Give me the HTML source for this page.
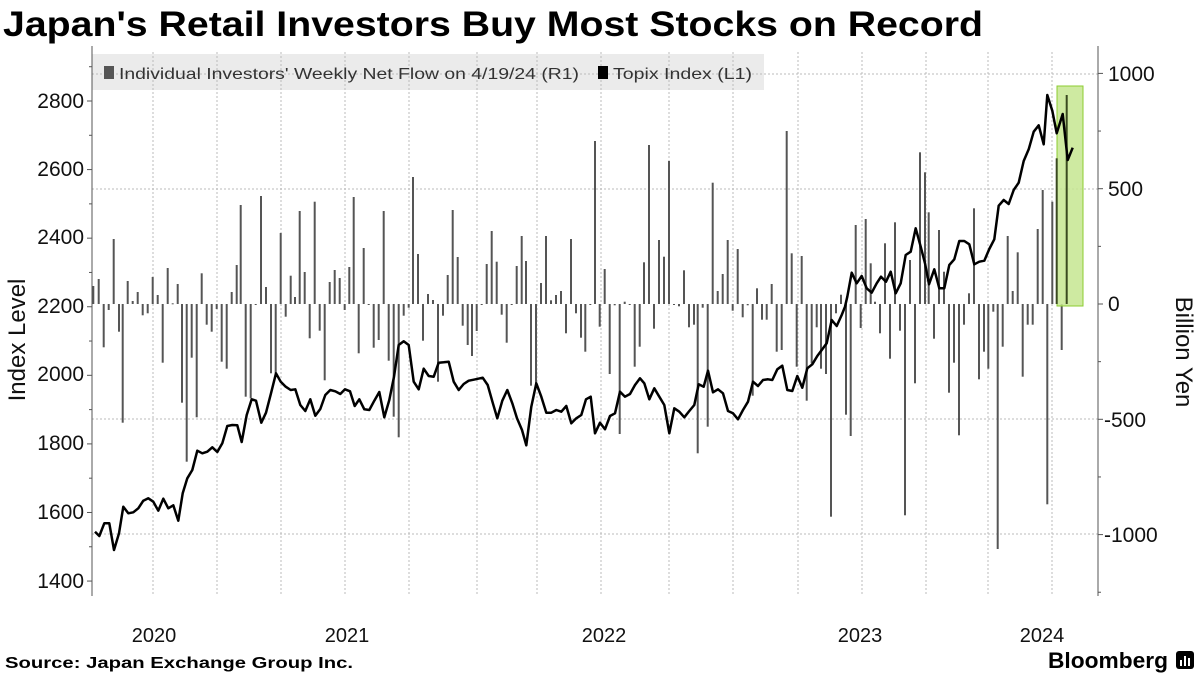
<!DOCTYPE html>
<html><head><meta charset="utf-8"><style>
html,body{margin:0;padding:0;background:#fff;}
svg{display:block;font-family:"Liberation Sans",sans-serif;}
</style></head><body>
<svg id="c" width="1200" height="675" viewBox="0 0 1200 675" xmlns="http://www.w3.org/2000/svg">
<rect width="1200" height="675" fill="#fff"/>
<text x="3" y="36" font-size="35" font-weight="bold" textLength="980" lengthAdjust="spacingAndGlyphs" fill="#000">Japan's Retail Investors Buy Most Stocks on Record</text>
<rect x="92" y="54" width="672" height="36" fill="#ebebeb"/>
<g id="grid" stroke="#bbb" stroke-width="1" stroke-dasharray="2,2" fill="none"></g>
<g id="bars" fill="#555"></g>
<rect x="1057" y="86" width="26" height="220" fill="#c5e690" stroke="#8ccc30" stroke-width="1" fill-opacity="0.85"/>
<g id="bars2" fill="#3a4a20"></g>
<polyline id="line" fill="none" stroke="#000" stroke-width="2.5" stroke-linejoin="round"/>
<rect x="104" y="66" width="10" height="13" fill="#555"/>
<text x="119" y="79" font-size="16" textLength="460" lengthAdjust="spacingAndGlyphs" fill="#333">Individual Investors' Weekly Net Flow on 4/19/24 (R1)</text>
<rect x="598" y="66" width="10" height="13" fill="#000"/>
<text x="613" y="79" font-size="16" textLength="139" lengthAdjust="spacingAndGlyphs" fill="#333">Topix Index (L1)</text>
<line x1="92" y1="46" x2="92" y2="596" stroke="#555" stroke-width="1"/>
<line x1="1098" y1="46" x2="1098" y2="596" stroke="#555" stroke-width="1"/>
<g id="ticks" stroke="#555" stroke-width="1"></g>
<g font-size="21" fill="#111" text-anchor="end">
<text x="84" y="108">2800</text><text x="84" y="176">2600</text><text x="84" y="244">2400</text>
<text x="84" y="313">2200</text><text x="84" y="381">2000</text><text x="84" y="450">1800</text>
<text x="84" y="519">1600</text><text x="84" y="588">1400</text>
</g>
<g font-size="21" fill="#111">
<text x="1108" y="81">1000</text><text x="1108" y="196">500</text><text x="1108" y="311">0</text>
<text x="1104" y="427">-500</text><text x="1104" y="542">-1000</text>
</g>
<text transform="translate(25,340) rotate(-90)" font-size="24" text-anchor="middle" fill="#111">Index Level</text>
<text transform="translate(1176,352) rotate(90)" font-size="24" text-anchor="middle" fill="#111">Billion Yen</text>
<g font-size="20" fill="#111" text-anchor="middle">
<text x="154" y="642">2020</text><text x="347" y="642">2021</text><text x="604" y="642">2022</text>
<text x="860" y="642">2023</text><text x="1042" y="642">2024</text>
</g>
<text x="5" y="668" font-size="16" font-weight="bold" textLength="348" lengthAdjust="spacingAndGlyphs" fill="#000">Source: Japan Exchange Group Inc.</text>
<text x="1048" y="668" font-size="22" font-weight="bold" textLength="120" lengthAdjust="spacingAndGlyphs" fill="#000">Bloomberg</text>
<rect x="1176" y="651" width="18" height="18" rx="3" fill="#000"/>
<rect x="1180" y="660" width="2" height="6" fill="#fff"/><rect x="1184" y="656" width="2" height="10" fill="#fff"/><rect x="1188" y="658" width="2" height="8" fill="#fff"/>
</svg>
<script>
var NS="http://www.w3.org/2000/svg";
function el(t,a,p){var e=document.createElementNS(NS,t);for(var k in a)e.setAttribute(k,a[k]);p.appendChild(e);return e;}
var g=document.getElementById('grid');
[153,217,281,345,409,477,537,601,669,733,798,862,926,988,1052].forEach(function(x){el('line',{x1:x,y1:52,x2:x,y2:596},g);});
[74,189,419,534].forEach(function(y){el('line',{x1:92,y1:y,x2:1098,y2:y},g);});
var tk=document.getElementById('ticks');
for(var v=1400;v<=2900;v+=100){var y=101+(2800-v)*0.3429;el('line',{x1:v%200==0?87:89,y1:y,x2:92,y2:y},tk);}
for(var v=-1250;v<=1000;v+=250){var y=304-v*0.2306;el('line',{x1:1098,y1:y,x2:v%500==0?1103:1101,y2:y},tk);}
// bars: [origin x, origin y, zero Y3, list]
var B=[
[90,130,[[10,468],[26,447],[41,652],[56,540],[71,327],[87,605],[98,878],[113,453],[128,513],[143,486],[158,556],[173,550],[188,441],[203,495],[218,698],[233,414],[248,520],[263,462],[276,818],[290,995],[305,683],[320,862],[335,430],[350,584],[365,605],[380,537],[395,695],[410,716],[425,486],[440,405],[452,225],[467,800],[482,805],[497,522],[513,198],[528,471],[543,730],[557,730],[572,309],[587,560],[602,437],[615,501],[629,243],[644,426],[659,625],[674,215],[689,602],[704,751],[719,456],[734,420],[749,444],[764,540],[778,411]]],
[340,130,[[41,201],[56,670],[71,354],[86,522],[101,653],[116,630],[131,243],[146,692],[161,860],[176,922],[191,557],[206,533],[219,141],[234,372],[249,632],[264,492],[279,510],[294,755],[309,557],[323,435],[338,240],[353,381],[368,587],[383,645],[396,678],[410,603],[425,522],[440,402],[455,303],[470,395],[485,554],[500,638],[515,522],[530,408],[545,318],[558,393],[573,767],[588,760],[603,459],[618,318],[633,511],[648,495],[663,483],[678,610],[693,327],[708,550],[723,623],[736,665],[751,522],[765,33]]],
[590,120,[[29,620],[44,447],[59,762],[74,556],[89,942],[104,545],[119,552],[134,740],[149,680],[162,427],[177,75],[192,626],[207,360],[222,410],[237,123],[252,552],[267,559],[282,451],[297,622],[312,614],[323,1000],[338,563],[353,920],[368,188],[383,513],[398,462],[413,360],[428,572],[443,387],[458,592],[473,556],[488,827],[501,505],[516,599],[530,599],[545,492],[560,695],[575,690],[590,33],[605,400],[620,740],[635,408],[650,842],[665,730],[680,622],[693,746],[708,762],[723,1190],[738,580],[753,524],[768,884]]],
[840,120,[[32,948],[47,315],[62,624],[77,297],[92,430],[105,545],[120,640],[135,370],[150,716],[165,307],[180,632],[195,1186],[210,420],[225,790],[240,97],[255,157],[266,277],[282,656],[297,330],[312,455],[327,818],[342,728],[357,946],[372,614],[387,520],[402,265],[417,778],[432,695],[445,746],[460,575],[473,1287],[488,680],[503,348],[518,513],[533,397],[548,770],[563,614],[578,614],[593,327],[608,210],[622,1153],[637,245],[650,115],[665,690],[680,-75]]]
];
var bg=document.getElementById('bars'),bg2=document.getElementById('bars2');
B.forEach(function(b){b[2].forEach(function(p){var x=b[0]+p[0]/3,y=b[1]+p[1]/3;var y0=304;var t=Math.min(y,y0),h=Math.max(Math.abs(y-y0),1);
el('rect',{x:(x-1).toFixed(1),y:t.toFixed(1),width:2,height:h.toFixed(1)},(x>1055&&x<1085&&y<304)?bg2:bg);});});
var L=[
[90,130,[[15,1205],[28,1218],[43,1180],[58,1180],[72,1260],[87,1210],[100,1130],[115,1150],[130,1147],[145,1135],[160,1112],[175,1105],[190,1115],[205,1142],[220,1106],[235,1135],[250,1126],[265,1172],[278,1090],[292,1045],[307,1020],[322,962],[337,970],[352,965],[367,952],[382,966],[397,940],[412,888],[427,885],[442,886],[455,936],[470,855],[485,808],[498,812],[514,878],[528,848],[543,790],[558,730],[572,755],[587,770],[602,780],[616,778],[631,825],[646,843],[661,808],[676,857],[691,837],[706,795],[721,780],[736,784],[751,792]]],
[340,130,[[15,778],[30,784],[44,828],[58,808],[73,838],[88,840],[103,812],[118,786],[133,862],[148,810],[162,740],[176,645],[191,634],[206,645],[221,755],[236,778],[251,716],[266,738],[281,740],[296,698],[311,697],[326,695],[341,755],[356,780],[371,762],[386,752],[401,749],[415,746],[428,743],[443,765],[458,818],[472,865],[487,812],[502,780],[517,820],[531,865],[546,900],[559,946],[574,830],[589,760],[604,800],[619,848],[634,848],[649,840],[664,845],[679,828],[694,880],[709,865],[724,855],[738,808],[752,800]]],
[590,120,[[15,940],[30,908],[45,928],[60,888],[75,880],[90,815],[105,830],[120,822],[135,795],[150,775],[163,790],[178,838],[193,805],[208,830],[223,855],[238,940],[253,865],[268,875],[283,892],[298,873],[313,855],[326,793],[341,800],[354,752],[369,817],[384,808],[399,820],[414,873],[429,880],[444,898],[459,870],[474,845],[489,785],[504,798],[519,780],[534,778],[547,780],[562,748],[577,737],[592,810],[607,813],[622,768],[637,803],[652,745],[667,733],[682,708],[697,688],[710,670],[725,600],[740,618],[755,585]]],
[840,120,[[15,560],[22,530],[35,458],[50,490],[65,468],[80,505],[95,518],[110,490],[123,470],[138,485],[152,455],[167,520],[182,490],[197,405],[212,395],[227,325],[242,380],[255,430],[267,493],[283,448],[298,505],[313,505],[328,435],[343,418],[358,363],[373,363],[388,373],[403,433],[418,425],[433,422],[448,387],[463,358],[476,257],[491,240],[506,252],[521,210],[536,188],[551,123],[566,88],[581,35],[596,16],[611,73]]],
[800,40,[[742,165],[757,212],[770,280],[788,222],[803,360],[818,323]]]
];
var pts=[];L.forEach(function(s){s[2].forEach(function(p){pts.push((s[0]+p[0]/3).toFixed(1)+','+(s[1]+p[1]/3).toFixed(1));});});
document.getElementById('line').setAttribute('points',pts.join(' '));
</script>
</body></html>
